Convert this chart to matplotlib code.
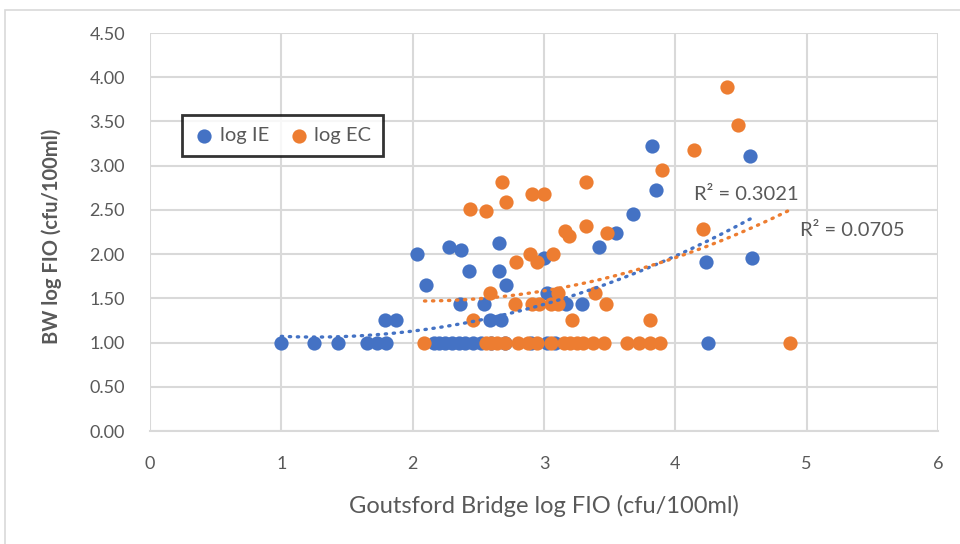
import numpy as np
import matplotlib.pyplot as plt
from matplotlib.patches import Rectangle

# -----------------------------
# Data
# -----------------------------
ie_x = [1.0, 1.25, 1.43, 1.65, 1.73, 1.8, 1.79, 1.87,
        2.16, 2.2, 2.25, 2.3, 2.35, 2.4, 2.46, 2.52, 2.6, 2.7, 2.9, 3.02, 3.08,
        2.03, 2.10, 2.28, 2.37, 2.43, 2.66, 2.66, 2.71, 3.0, 3.02,
        2.36, 2.54, 2.59, 2.67, 3.17, 3.29,
        3.42, 3.55, 3.68, 3.85, 3.82, 4.57, 4.23, 4.58, 4.25]
ie_y = [1.0, 1.0, 1.0, 1.0, 1.0, 1.0, 1.26, 1.26,
        1.0, 1.0, 1.0, 1.0, 1.0, 1.0, 1.0, 1.0, 1.0, 1.0, 1.0, 1.0, 1.0,
        2.0, 1.65, 2.08, 2.05, 1.81, 2.13, 1.81, 1.65, 1.96, 1.56,
        1.44, 1.44, 1.26, 1.26, 1.44, 1.44,
        2.08, 2.24, 2.45, 2.73, 3.22, 3.11, 1.91, 1.96, 1.0]

ec_x = [2.09, 2.56, 2.6, 2.64, 2.7, 2.8, 2.88, 2.95, 3.05, 3.15, 3.2, 3.25, 3.3,
        3.37, 3.46, 3.63, 3.72, 3.81, 3.88, 4.87,
        2.46, 3.21, 3.81,
        2.78, 2.91, 2.96, 3.05, 3.11, 3.47,
        2.59, 3.11, 3.39,
        2.79, 2.89, 2.95, 3.07, 3.16, 3.19, 3.32, 3.48,
        2.44, 2.56, 2.71, 2.68, 2.91, 3.0, 3.32, 3.9, 4.14, 4.39, 4.48, 4.21]
ec_y = [1.0, 1.0, 1.0, 1.0, 1.0, 1.0, 1.0, 1.0, 1.0, 1.0, 1.0, 1.0, 1.0,
        1.0, 1.0, 1.0, 1.0, 1.0, 1.0, 1.0,
        1.26, 1.26, 1.26,
        1.44, 1.44, 1.44, 1.44, 1.44, 1.44,
        1.56, 1.56, 1.56,
        1.91, 2.0, 1.91, 2.0, 2.26, 2.21, 2.32, 2.24,
        2.51, 2.49, 2.59, 2.81, 2.68, 2.68, 2.81, 2.95, 3.18, 3.89, 3.46, 2.28]

# polynomial (order 2) trendline coefficients, highest power first
ie_trend = [0.1216, -0.3055, 1.254]
ec_trend = [0.1302, -0.5367, 2.023]
ie_r2 = "R² = 0.3021"
ec_r2 = "R² = 0.0705"

blue = "#4472C4"
orange = "#ED7D31"
grey_text = "#595959"
grid_col = "#D9D9D9"

plt.rcParams['font.family'] = ['Lato', 'DejaVu Sans']

fig = plt.figure(figsize=(9.6, 5.44), dpi=100)
ax = fig.add_axes([150 / 960, 1 - 431 / 544, 788 / 960, 398 / 544])

# outer chart frame
fig.patches.append(Rectangle((5 / 960, -0.1), 1.2, 1 - 10 / 544 + 0.1,
                             transform=fig.transFigure, fill=False,
                             edgecolor="#D9D9D9", linewidth=1.2))

ax.scatter(ie_x, ie_y, s=105, color=blue, label="log IE", zorder=3, linewidths=0)
ax.scatter(ec_x, ec_y, s=105, color=orange, label="log EC", zorder=3, linewidths=0)

# trendlines
xs = np.linspace(min(ie_x), max(ie_x), 200)
ax.plot(xs, np.polyval(ie_trend, xs), color=blue, lw=2.4,
        linestyle=(0, (0.4, 2.0)), dash_capstyle='round', zorder=4)
xs = np.linspace(min(ec_x), max(ec_x), 200)
ax.plot(xs, np.polyval(ec_trend, xs), color=orange, lw=2.4,
        linestyle=(0, (0.4, 2.0)), dash_capstyle='round', zorder=4)

ax.text(4.14, 2.67, ie_r2, color=grey_text, fontsize=14.5, va='center', ha='left')
ax.text(4.95, 2.27, ec_r2, color=grey_text, fontsize=14.5, va='center', ha='left')

ax.set_xlim(0, 6)
ax.set_ylim(0, 4.5)
ax.set_xticks(np.arange(0, 7, 1))
ax.set_yticks(np.arange(0, 4.51, 0.5))
ax.set_yticklabels([f"{v:.2f}" for v in np.arange(0, 4.51, 0.5)])
ax.tick_params(colors=grey_text, labelsize=13, length=0)
ax.tick_params(axis='x', pad=18)
ax.tick_params(axis='y', pad=18)
ax.grid(True, color=grid_col, lw=1.5, zorder=0)
ax.set_axisbelow(True)
for s in ['top', 'right', 'left']:
    ax.spines[s].set_visible(False)
ax.spines['bottom'].set_color(grid_col)
ax.spines['bottom'].set_linewidth(1.5)

ax.set_xlabel("Goutsford Bridge log FIO (cfu/100ml)", color=grey_text, fontsize=17)
ax.set_ylabel("BW log FIO (cfu/100ml)", color=grey_text, fontsize=14.5, fontweight='bold')
ax.xaxis.set_label_coords(0.5, -0.16)
ax.yaxis.set_label_coords(-0.112, 0.49)

leg = ax.legend(loc='upper left', bbox_to_anchor=(0.041, 0.794), ncol=2,
                fontsize=14.5, frameon=True, fancybox=False, handletextpad=0.25,
                handlelength=1.0, columnspacing=1.0, borderpad=0.6,
                borderaxespad=0, labelcolor=grey_text)
leg.get_frame().set_edgecolor('black')
leg.get_frame().set_linewidth(2)

fig.savefig("out.png", dpi=100)
